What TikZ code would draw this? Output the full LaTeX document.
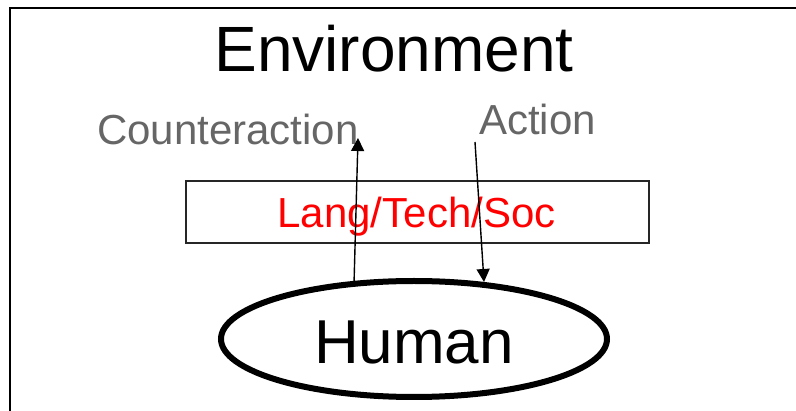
\documentclass[tikz,border=0pt]{standalone}
\usepackage{fontspec}
\setmainfont{Liberation Sans}
\usetikzlibrary{arrows.meta,shapes.geometric}
\definecolor{labelgray}{HTML}{666666}
\definecolor{layerred}{HTML}{FF0000}
\begin{document}
\begin{tikzpicture}[x=1pt,y=-1pt,
  frameline/.style={line width=2pt,black},
  layerbox/.style={draw=black!85,line width=1.6pt,minimum width=463pt,minimum height=62pt,inner sep=0pt},
  humanshape/.style={ellipse,draw=black,line width=6pt,minimum width=386pt,minimum height=116pt,inner sep=0pt},
  arr/.style={line width=1.4pt,black,-{Triangle[length=13pt,width=13pt]}},
  titletext/.style={anchor=base,inner sep=0pt,font=\fontsize{64}{64}\selectfont},
  graytext/.style={anchor=base,inner sep=0pt,text=labelgray,font=\fontsize{42}{42}\selectfont},
  redtext/.style={anchor=base,inner sep=0pt,text=layerred,font=\fontsize{42}{42}\selectfont},
  humantextstyle/.style={anchor=base,inner sep=0pt,font=\fontsize{62}{62}\selectfont}]
\useasboundingbox (0,0) rectangle (796,411);
\clip (0,0) rectangle (796,411);
\fill[white] (0,0) rectangle (796,411);
% frame (cut off at right and bottom)
\draw[frameline] (10,420) -- (10,8) -- (800,8);
% texts
\node[titletext] (env) at (394,72) {Environment};
\node[graytext] (counter) at (228,145) {Counteraction};
\node[graytext] (action) at (537.5,135) {Action};
% layer box
\node[layerbox] (layer) at (417.5,212) {};
\node[redtext] (layertext) at (416.5,228) {Lang/Tech/Soc};
% human ellipse
\node[humanshape] (human) at (414,339) {};
\node[humantextstyle] (humantext) at (414,364) {Human};
% arrow endpoints
\path (human.center) ++(-60,-55) coordinate (cStart);
\coordinate (cTip) at (358,138);
\coordinate (aStart) at (475,142);
\coordinate (aTip) at (484,282);
\draw[arr] (cStart) -- (cTip);
\draw[arr] (aStart) -- (aTip);
\end{tikzpicture}
\end{document}
